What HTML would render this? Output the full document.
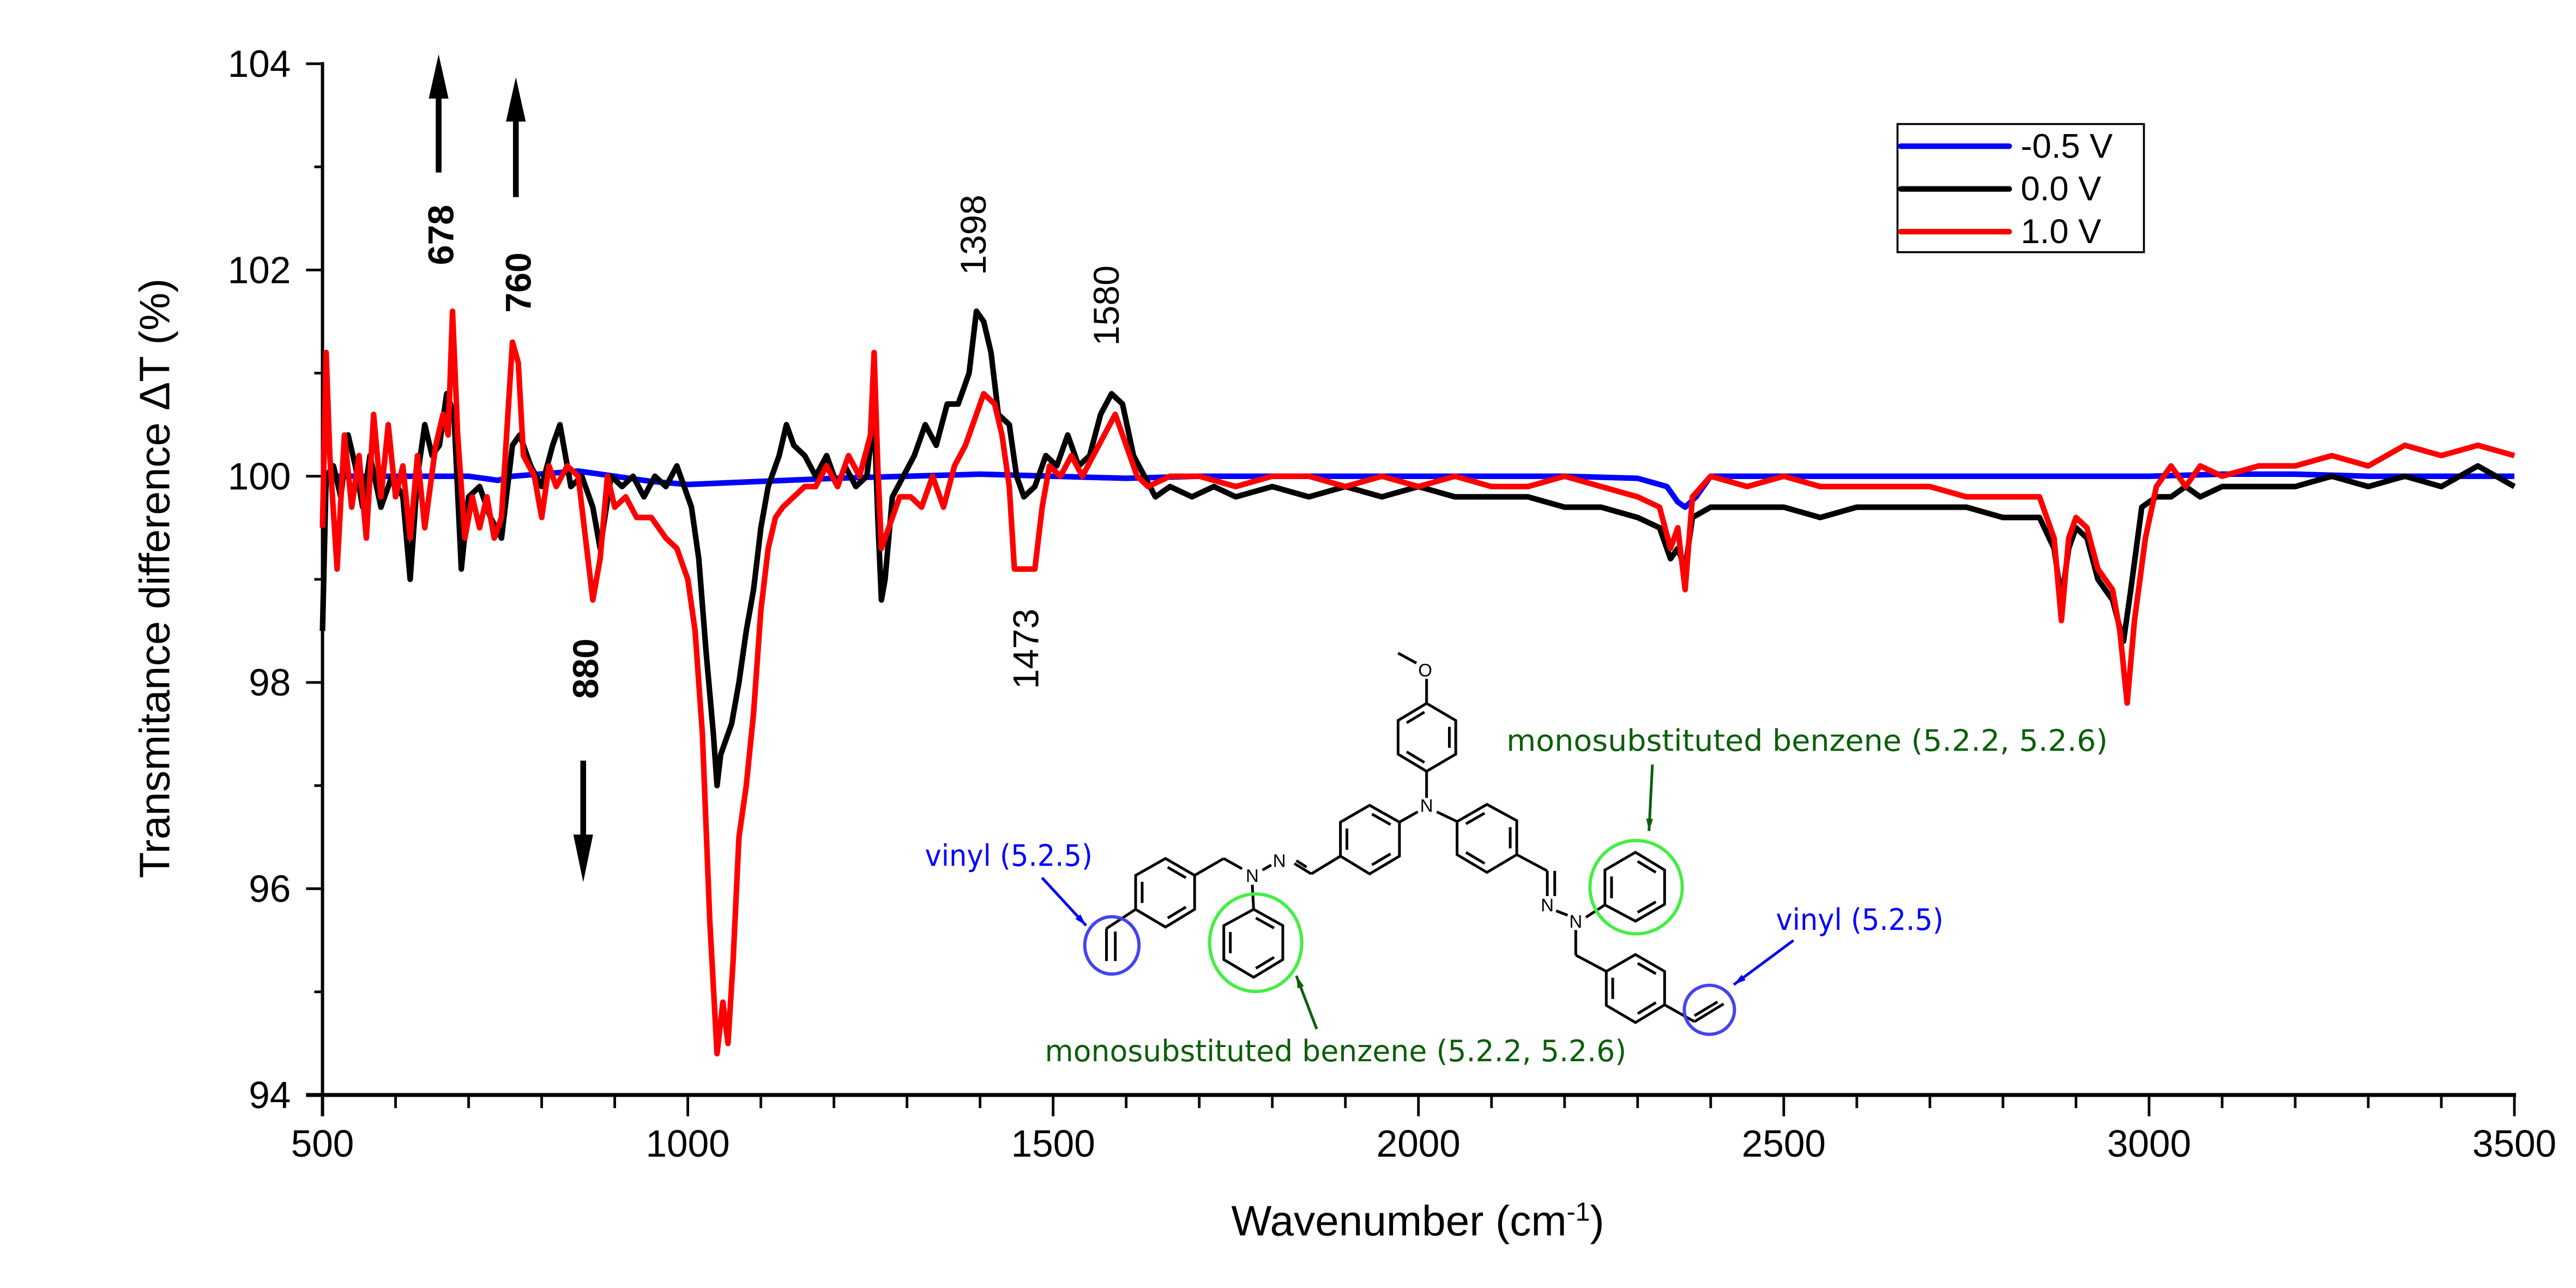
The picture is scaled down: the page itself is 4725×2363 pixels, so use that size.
<!DOCTYPE html>
<html><head><meta charset="utf-8"><style>html,body{margin:0;padding:0;background:#fff}svg{display:block}</style></head>
<body>
<svg id="chart" width="4725" height="2363" viewBox="0 0 1568 784" preserveAspectRatio="none" xmlns="http://www.w3.org/2000/svg" font-family="Liberation Sans, sans-serif">
<rect width="1568" height="784" fill="#fff"/>
<g id="axes"></g>
<g id="series"></g>

<g>
<rect x="1155" y="75.5" width="150" height="78" fill="#fff" stroke="#000" stroke-width="1.2"/>
<line x1="1157" y1="89" x2="1223" y2="89" stroke="#0000ff" stroke-width="3.4" stroke-linecap="round"/>
<text x="1230" y="96" font-size="21">-0.5 V</text>
<line x1="1157" y1="115" x2="1223" y2="115" stroke="#000" stroke-width="3.4" stroke-linecap="round"/>
<text x="1230" y="122" font-size="21">0.0 V</text>
<line x1="1157" y1="141" x2="1223" y2="141" stroke="#ff0000" stroke-width="3.4" stroke-linecap="round"/>
<text x="1230" y="148" font-size="21">1.0 V</text>
</g>

<g>
<line x1="267" y1="105" x2="267" y2="58" stroke="#000" stroke-width="3.5"/>
<polygon points="267,33 261,60 273,60" fill="#000"/>
<line x1="314" y1="120" x2="314" y2="72" stroke="#000" stroke-width="3.5"/>
<polygon points="314,47 308,74 320,74" fill="#000"/>
<line x1="355" y1="463" x2="355" y2="510" stroke="#000" stroke-width="3.5"/>
<polygon points="355,537 349,508 361,508" fill="#000"/>
<text transform="translate(276,143) rotate(-90)" text-anchor="middle" font-size="22" font-weight="bold">678</text>
<text transform="translate(323,172) rotate(-90)" text-anchor="middle" font-size="22" font-weight="bold">760</text>
<text transform="translate(364,407) rotate(-90)" text-anchor="middle" font-size="22" font-weight="bold">880</text>
<text transform="translate(600,143) rotate(-90)" text-anchor="middle" font-size="22">1398</text>
<text transform="translate(681,186) rotate(-90)" text-anchor="middle" font-size="22">1580</text>
<text transform="translate(632,395) rotate(-90)" text-anchor="middle" font-size="22">1473</text>
</g>

<g>
<g transform="translate(547.6,381.7) scale(0.4128,0.1799)" fill="none" stroke="#000" stroke-width="1.3" id="mol"></g>
<text x="563" y="527" font-size="18" fill="#0000ff" textLength="102" lengthAdjust="spacingAndGlyphs" font-family="DejaVu Sans, sans-serif">vinyl (5.2.5)</text>
<text x="1081" y="566" font-size="18" fill="#0000ff" textLength="102" lengthAdjust="spacingAndGlyphs" font-family="DejaVu Sans, sans-serif">vinyl (5.2.5)</text>
<text x="917" y="457" font-size="18" fill="#0b5e0b" textLength="366" lengthAdjust="spacingAndGlyphs" font-family="DejaVu Sans, sans-serif">monosubstituted benzene (5.2.2, 5.2.6)</text>
<text x="636" y="646" font-size="18" fill="#0b5e0b" textLength="354" lengthAdjust="spacingAndGlyphs" font-family="DejaVu Sans, sans-serif">monosubstituted benzene (5.2.2, 5.2.6)</text>
</g>

<text x="863" y="752" text-anchor="middle" font-size="26">Wavenumber (cm<tspan dy="-9" font-size="16">-1</tspan><tspan dy="9">)</tspan></text>
<text transform="translate(103,352) rotate(-90)" text-anchor="middle" font-size="26">Transmitance difference ΔT (%)</text>
</svg>
<script>
const xTickValues=[500,1000,1500,2000,2500,3000,3500];
const yTickValues=[94,96,98,100,102,104];
const blueWn=[500,600,700,740,760,850,900,950,1000,1100,1200,1300,1400,1500,1600,1700,1800,1900,2000,2100,2200,2300,2340,2355,2365,2380,2400,2500,2600,2700,2800,2900,3000,3100,3200,3300,3400,3500];
const blueVal=[100,100,100,99.96,100,100.05,100,99.95,99.92,99.95,99.98,100,100.02,100,99.98,100,100,100,100,100,100,99.98,99.9,99.75,99.7,99.8,100,100,100,100,100,100,100,100.02,100.02,100,100,100];
const blackWn=[500,505,515,525,535,545,555,565,580,595,610,620,630,640,650,660,670,680,690,700,715,730,745,760,770,785,800,815,825,840,855,870,880,895,910,925,940,955,970,985,995,1005,1015,1025,1035,1040,1045,1050,1060,1070,1080,1090,1100,1110,1125,1135,1145,1160,1175,1190,1205,1215,1230,1245,1255,1260,1265,1270,1280,1295,1310,1325,1340,1355,1370,1385,1395,1405,1415,1425,1440,1450,1460,1475,1490,1505,1520,1535,1550,1565,1580,1595,1610,1625,1640,1660,1690,1720,1750,1800,1850,1900,1950,2000,2050,2100,2150,2200,2250,2300,2330,2345,2355,2365,2375,2400,2450,2500,2550,2600,2650,2700,2750,2800,2850,2870,2880,2890,2900,2915,2930,2950,2965,2975,2990,3010,3030,3050,3070,3100,3150,3200,3250,3300,3350,3400,3450,3500];
const blackVal=[98.5,100,100.1,99.8,100.4,100.1,99.7,100.2,99.7,100.0,99.8,99.0,100.0,100.5,100.2,100.3,100.8,100.6,99.1,99.8,99.9,99.6,99.4,100.3,100.4,100.1,99.9,100.3,100.5,99.9,100.0,99.7,99.3,100.0,99.9,100.0,99.8,100.0,99.9,100.1,99.9,99.7,99.2,98.3,97.5,97.0,97.3,97.4,97.6,98.0,98.5,98.9,99.5,99.9,100.2,100.5,100.3,100.2,100.0,100.2,99.9,100.1,99.9,100.0,100.6,99.6,98.8,99.0,99.8,100.0,100.2,100.5,100.3,100.7,100.7,101.0,101.6,101.5,101.2,100.6,100.5,100.0,99.8,99.9,100.2,100.1,100.4,100.1,100.2,100.6,100.8,100.7,100.2,100.0,99.8,99.9,99.8,99.9,99.8,99.9,99.8,99.9,99.8,99.9,99.8,99.8,99.8,99.7,99.7,99.6,99.5,99.2,99.3,99.1,99.6,99.7,99.7,99.7,99.6,99.7,99.7,99.7,99.7,99.6,99.6,99.3,98.8,99.3,99.5,99.4,99.0,98.8,98.4,98.9,99.7,99.8,99.8,99.9,99.8,99.9,99.9,99.9,100.0,99.9,100.0,99.9,100.1,99.9];
const redWn=[500,505,510,520,530,540,550,560,570,580,590,600,610,620,630,640,655,665,672,678,685,695,705,715,725,735,745,752,760,768,775,790,800,810,820,835,850,860,870,880,890,900,915,930,950,970,985,1000,1010,1020,1030,1040,1048,1055,1062,1070,1080,1090,1100,1110,1120,1130,1145,1160,1175,1190,1205,1220,1235,1250,1255,1260,1265,1275,1290,1305,1320,1335,1350,1365,1380,1395,1405,1420,1430,1440,1447,1460,1475,1485,1495,1510,1525,1540,1555,1570,1585,1600,1615,1630,1660,1700,1750,1800,1850,1900,1950,2000,2050,2100,2150,2200,2250,2300,2330,2345,2355,2365,2375,2400,2450,2500,2550,2600,2650,2700,2750,2800,2850,2870,2880,2890,2900,2915,2930,2950,2960,2970,2980,2995,3010,3030,3050,3070,3100,3150,3200,3250,3300,3350,3400,3450,3500];
const redVal=[99.5,101.2,100.2,99.1,100.4,99.7,100.2,99.4,100.6,99.8,100.5,99.8,100.1,99.4,100.2,99.5,100.3,100.6,100.4,101.6,100.4,99.4,99.8,99.5,99.8,99.4,99.6,100.4,101.3,101.1,100.2,100.0,99.6,100.1,99.9,100.1,100.0,99.4,98.8,99.2,100.0,99.7,99.8,99.6,99.6,99.4,99.3,99.0,98.5,97.5,95.7,94.4,94.9,94.5,95.3,96.5,97.0,97.7,98.7,99.3,99.6,99.7,99.8,99.9,99.9,100.1,99.9,100.2,100.0,100.4,101.2,100.1,99.3,99.5,99.8,99.8,99.7,100.0,99.7,100.1,100.3,100.6,100.8,100.7,100.4,99.9,99.1,99.1,99.1,99.7,100.1,100.0,100.2,100.0,100.2,100.4,100.6,100.3,100.0,99.9,100.0,100.0,99.9,100.0,100.0,99.9,100.0,99.9,100.0,99.9,99.9,100.0,99.9,99.8,99.7,99.3,99.5,98.9,99.8,100.0,99.9,100.0,99.9,99.9,99.9,99.9,99.8,99.8,99.8,99.4,98.6,99.4,99.6,99.5,99.1,98.9,98.5,97.8,98.6,99.4,99.9,100.1,99.9,100.1,100.0,100.1,100.1,100.2,100.1,100.3,100.2,100.3,100.2];

const NS='http://www.w3.org/2000/svg';
const X0=196.3,X1=1530.5,Y0=666.5,Y1=38.8;
function xs(w){return X0+(w-500)/(3500-500)*(X1-X0);}
function ys(v){return Y0-(v-94)/(104-94)*(Y0-Y1);}
function mk(tag,attrs,parent){const el=document.createElementNS(NS,tag);for(const k in attrs)el.setAttribute(k,attrs[k]);parent.appendChild(el);return el;}

const axes=document.getElementById('axes');
let e=mk('line',{x1:X0,y1:Y1-1,x2:X0,y2:Y0+13,stroke:'#000','stroke-width':2},axes);


e=mk('line',{x1:X0-10,y1:Y0,x2:X1+1,y2:Y0,stroke:'#000','stroke-width':2.4},axes);


for(let w=500;w<=3500;w+=100){const major=w%500===0;
 e=mk('line',{x1:xs(w),y1:Y0,x2:xs(w),y2:Y0+(major?13:8),stroke:'#000','stroke-width':1.6},axes);
 
 }
xTickValues.forEach(w=>{e=mk('text',{x:xs(w),y:704,'text-anchor':'middle','font-size':23},axes);e.textContent=w;
 
 });
for(let v=94;v<=104;v+=1){const major=v%2===0;
 e=mk('line',{x1:X0-(major?10:5),y1:ys(v),x2:X0,y2:ys(v),stroke:'#000','stroke-width':1.6},axes);
 
 }
yTickValues.forEach(v=>{e=mk('text',{x:177,y:ys(v)+8,'text-anchor':'end','font-size':23},axes);e.textContent=v;
 
 });

const ser=document.getElementById('series');
function line(wn,val,color,name){const d=wn.map((w,i)=>(i?'L':'M')+xs(w).toFixed(2)+','+ys(val[i]).toFixed(2)).join('');
 const p=mk('path',{d:d,fill:'none',stroke:color,'stroke-width':3.4,'stroke-linejoin':'round'},ser);
 
 }
line(blueWn,blueVal,'#0000ff','series-neg05v');
line(blackWn,blackVal,'#000000','series-0v');
line(redWn,redVal,'#ff0000','series-1v');

const SW=5;
const mol=document.getElementById('mol');
function seg(a){for(let i=0;i+3<a.length;i+=2){mk('line',{x1:a[i],y1:a[i+1],x2:a[i+2],y2:a[i+3],'vector-effect':'non-scaling-stroke','stroke-width':SW},mol);}}
function ring(p,inner){const pts=[];for(let i=0;i<6;i++)pts.push(p[i*2]+','+p[i*2+1]);
 mk('polygon',{points:pts.join(' '),'vector-effect':'non-scaling-stroke','stroke-width':SW},mol);
 let cx=0,cy=0;for(let i=0;i<6;i++){cx+=p[i*2]/6;cy+=p[i*2+1]/6;}
 inner.forEach(k=>{const a=k,b=(k+1)%6;const f=0.78;
  const x1=cx+(p[a*2]-cx)*f,y1=cy+(p[a*2+1]-cy)*f,x2=cx+(p[b*2]-cx)*f,y2=cy+(p[b*2+1]-cy)*f;
  const mx=(x1+x2)/2,my=(y1+y2)/2;
  mk('line',{x1:mx+(x1-mx)*0.8,y1:my+(y1-my)*0.8,x2:mx+(x2-mx)*0.8,y2:my+(y2-my)*0.8,'vector-effect':'non-scaling-stroke','stroke-width':SW},mol);});}
seg([735,88,762,122]);seg([777,175,777,258]);
ring([777,258,820,316,820,430,777,488,735,430,735,316],[1,3,5]);
seg([777,488,777,578]);seg([764,625,737,660]);seg([792,625,822,658]);
ring([737,660,693,603,650,660,650,775,693,835,737,775],[0,2,4]);
seg([650,775,607,835,582,800]);seg([600,812,585,790]);seg([548,805,535,822]);
seg([505,818,478,783,435,840]);
ring([435,840,392,783,348,840,348,955,392,1015,435,955],[0,2,4]);
seg([348,955,305,1020,305,1130]);seg([318,1030,318,1130]);
seg([520,872,522,955]);
ring([522,955,565,1010,565,1125,522,1185,478,1125,478,1010],[0,2,4]);
ring([822,658,866,600,910,655,910,770,866,830,822,770],[0,2,4]);
seg([910,770,955,825,955,910]);seg([966,825,966,910]);seg([968,960,985,975]);
seg([1012,982,1040,940]);
ring([1040,940,1040,822,1085,762,1128,822,1128,938,1085,995],[0,2,4]);
seg([997,1025,997,1110,1042,1165]);
ring([1042,1165,1085,1108,1128,1165,1128,1278,1085,1338,1042,1280],[1,3,5]);
seg([1128,1278,1172,1335,1215,1275]);seg([1172,1315,1206,1268]);
[[560,790,'N'],[520,840,'N'],[777,603,'N'],[955,940,'N'],[997,995,'N'],[775,145,'O']].forEach(a=>{
 const t=mk('text',{x:0,y:0,transform:'translate('+a[0]+','+(a[1]+22)+') scale(2.42,5.56)','text-anchor':'middle','font-size':11,fill:'#000',stroke:'none'},mol);t.textContent=a[2];});
mk('ellipse',{cx:525,cy:1068,rx:68,ry:165,stroke:'#44ee44','stroke-width':6,'vector-effect':'non-scaling-stroke'},mol);
mk('ellipse',{cx:1086,cy:880,rx:68,ry:158,stroke:'#44ee44','stroke-width':6,'vector-effect':'non-scaling-stroke'},mol);
mk('ellipse',{cx:313,cy:1077,rx:40,ry:97,stroke:'#4444ee','stroke-width':6,'vector-effect':'non-scaling-stroke'},mol);
mk('ellipse',{cx:1194,cy:1295,rx:37,ry:83,stroke:'#4444ee','stroke-width':6,'vector-effect':'non-scaling-stroke'},mol);
[[210,848,275,1010,'#0000ee'],[1318,1060,1230,1210,'#0000ee'],[1110,465,1105,690,'#0b5e0b'],[615,1360,585,1180,'#0b5e0b']].forEach(a=>{
 mk('line',{x1:a[0],y1:a[1],x2:a[2],y2:a[3],stroke:a[4],'stroke-width':5,'vector-effect':'non-scaling-stroke'},mol);
 const dx=a[2]-a[0],dy=(a[3]-a[1])*0.436;const L=Math.hypot(dx,dy);const ux=dx/L,uy=dy/L;
 const hl=18,hw=5;const bx=a[2]-ux*hl,by=a[3]-uy*hl/0.436;
 const px=-uy*hw,py=ux*hw/0.436;
 mk('polygon',{points:a[2]+','+a[3]+' '+(bx+px)+','+(by+py)+' '+(bx-px)+','+(by-py),fill:a[4],stroke:'none'},mol);});
</script>
</body></html>
